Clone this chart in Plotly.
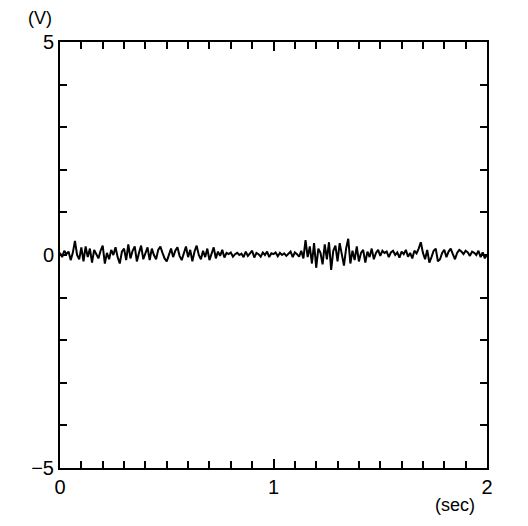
import plotly.graph_objects as go

# Signal values (V), sampled every 0.01 s from 0 to 2 s
voltage = [
    0.05, -0.05, 0.10, 0.02, 0.08, -0.12, 0.05, 0.33, 0.00, -0.10, 0.18, -0.15, 0.20, -0.05, 0.15, -0.18, 0.12, 0.02, -0.08, 0.10,
    0.22, -0.20, 0.05, -0.10, 0.12, 0.00, 0.18, -0.05, -0.20, 0.08, 0.15, -0.12, 0.25, -0.08, 0.10, 0.20, -0.15, 0.05, 0.22, -0.10,
    0.02, 0.18, -0.12, 0.15, 0.00, -0.10, 0.12, 0.20, 0.05, -0.08, -0.15, 0.02, 0.15, -0.05, 0.10, 0.18, -0.02, -0.12, 0.05, 0.20,
    -0.05, 0.12, -0.15, 0.08, 0.22, 0.00, -0.10, 0.10, -0.05, 0.15, -0.12, 0.05, 0.18, -0.08, 0.08, -0.02, 0.12, -0.06, 0.05, 0.02,
    0.06, -0.04, 0.02, 0.05, 0.00, 0.03, -0.05, 0.08, -0.02, 0.04, 0.10, -0.06, 0.05, 0.02, -0.04, 0.06, 0.00, 0.08, -0.05, 0.04,
    0.02, 0.06, -0.03, 0.05, 0.00, 0.04, -0.02, 0.03, 0.08, -0.05, 0.06, 0.02, -0.04, 0.10, -0.08, 0.35, -0.05, 0.20, -0.20, 0.28,
    -0.30, 0.15, 0.05, -0.22, 0.25, -0.10, 0.30, -0.35, 0.10, 0.22, -0.15, 0.28, 0.00, -0.25, 0.15, 0.38, -0.20, 0.10, -0.12, 0.20,
    -0.15, 0.05, 0.12, -0.18, 0.08, -0.05, 0.15, -0.10, 0.05, 0.12, -0.02, 0.10, 0.05, 0.08, -0.05, 0.06, 0.10, 0.00, 0.06, -0.06,
    0.08, 0.02, 0.12, -0.04, 0.05, -0.08, 0.10, 0.04, 0.15, 0.30, 0.05, -0.10, 0.12, -0.18, -0.05, 0.10, 0.15, -0.15, -0.10, 0.05,
    0.12, -0.05, 0.08, 0.15, 0.02, -0.10, 0.05, 0.12, 0.08, 0.02, 0.10, 0.06, -0.02, 0.08, 0.05, 0.00, 0.10, -0.05, 0.06, -0.08, 0.02,
]
sample_step = 0.01
time = [i * sample_step for i in range(len(voltage))]

x_tick_vals = [0, 1, 2]
x_tick_text = ["0", "1", "2"]
y_tick_vals = [-5, 0, 5]
y_tick_text = ["\u22125", "0", "5"]

font_family = "Liberation Sans, Arial, sans-serif"

fig = go.Figure()
fig.add_trace(go.Scatter(x=time, y=voltage, mode="lines",
                         line=dict(color="black", width=2), showlegend=False))

fig.update_layout(
    width=512, height=510,
    margin=dict(l=52, r=33, t=34, b=50),
    paper_bgcolor="white", plot_bgcolor="white",
    font=dict(family=font_family, size=18, color="black"),
)
fig.update_xaxes(
    range=[0, 2], tickvals=x_tick_vals, ticktext=x_tick_text, automargin=False,
    showgrid=False, zeroline=False, showline=True, linecolor="black", linewidth=2,
    mirror="ticks", ticks="inside", ticklen=9, tickwidth=2, tickcolor="black",
    minor=dict(dtick=0.1, tick0=0, ticks="inside", ticklen=7, tickwidth=2, tickcolor="black", showgrid=False),
    tickfont=dict(size=20),
)
fig.update_yaxes(
    range=[-5, 5], tickvals=y_tick_vals, ticktext=y_tick_text, automargin=False,
    showgrid=False, zeroline=False, showline=True, linecolor="black", linewidth=2,
    mirror="ticks", ticks="inside", ticklen=7, tickwidth=2, tickcolor="black",
    minor=dict(dtick=1, tick0=0, ticks="inside", ticklen=7, tickwidth=2, tickcolor="black", showgrid=False),
    tickfont=dict(size=20),
)
fig.add_annotation(text="(V)", xref="paper", yref="paper", x=-0.047, y=1.0,
                   xanchor="center", yanchor="bottom", yshift=12,
                   showarrow=False, font=dict(size=18))
fig.add_annotation(text="(sec)", xref="paper", yref="paper", x=0.925, y=0,
                   xanchor="center", yanchor="middle", yshift=-37,
                   showarrow=False, font=dict(size=18))

fig.write_html("out.html")
